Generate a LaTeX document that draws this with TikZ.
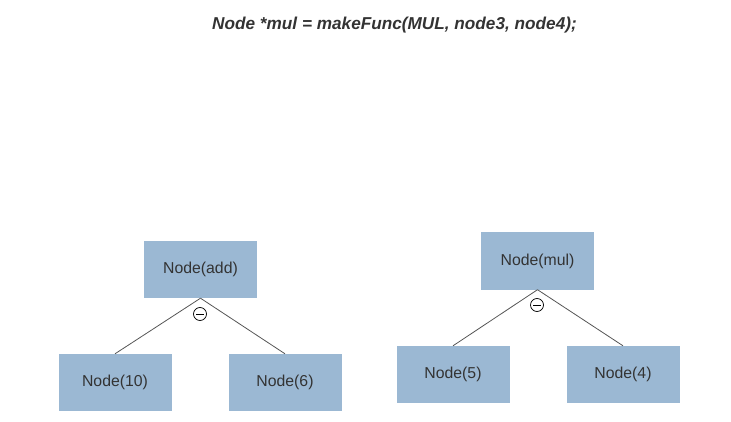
\documentclass[tikz,border=0pt]{standalone}
\usepackage{fontspec}
\setmainfont{Liberation Sans}
\usetikzlibrary{positioning}
\definecolor{boxblue}{HTML}{9BB8D3}
\definecolor{txtgray}{HTML}{333333}
\definecolor{edgegray}{HTML}{555555}
\tikzset{
  treebox/.style={fill=boxblue,minimum width=113pt,minimum height=57pt,inner sep=0pt,
    text=txtgray,font=\fontsize{15.8}{18}\selectfont},
  opnode/.style={circle,draw=black,line width=0.7pt,minimum size=13pt,inner sep=0pt},
  treeedge/.style={draw=edgegray,line width=0.8pt}
}

\begin{document}
\begin{tikzpicture}[x=1pt,y=-1pt]
    \useasboundingbox (0,0) rectangle (731,422);
    \node[font=\fontsize{17.2}{20}\selectfont\bfseries\itshape,text=txtgray] (title) at (394.5,25)
      {Node *mul = makeFunc(MUL, node3, node4);};
    % left tree
    \node[treebox] (add) at (200.5,269.5) {Node(add)};
    \node[treebox] (n10) at (115,382.5) {Node(10)};
    \node[treebox] (n6)  at (285,382.5) {Node(6)};
    \draw[treeedge] (add.south) -- (n10.north);
    \draw[treeedge] (add.south) -- (n6.north);
    \node[opnode] (addop) at (200,314) {};
    \draw[line width=0.7pt] ([xshift=3pt]addop.west) -- ([xshift=-3pt]addop.east);
    % right tree
    \node[treebox] (mul) at (537.5,261) {Node(mul)};
    \node[treebox] (n5)  at (453,374.5) {Node(5)};
    \node[treebox] (n4)  at (623,374.5) {Node(4)};
    \draw[treeedge] (mul.south) -- (n5.north);
    \draw[treeedge] (mul.south) -- (n4.north);
    \node[opnode] (mulop) at (537,305) {};
    \draw[line width=0.7pt] ([xshift=3pt]mulop.west) -- ([xshift=-3pt]mulop.east);
  \end{tikzpicture}
\end{document}
